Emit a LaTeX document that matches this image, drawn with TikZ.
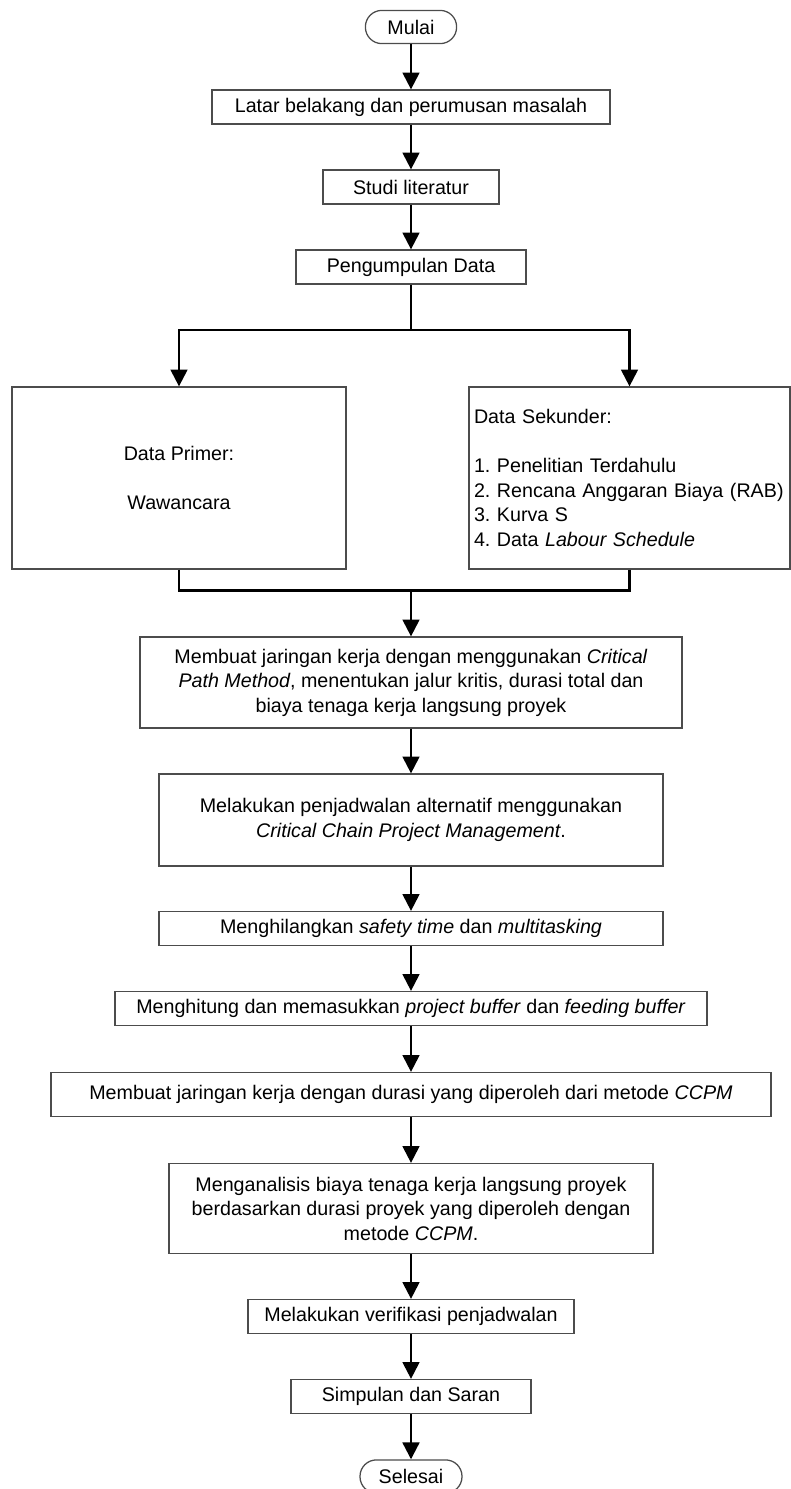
\documentclass[tikz,border=0pt]{standalone}
\usepackage{fontspec}
\setmainfont{Liberation Sans}
\frenchspacing
\usetikzlibrary{
    arrows.meta,
    positioning,
    calc
}

\begin{document}
\begin{tikzpicture}[
    node distance=2cm,
    every node/.style={font=\fontsize{14}{17.4}\selectfont},
    process/.style={rectangle, minimum height=0.85cm, align=center,
                    draw=black!70, line width=0.9pt, inner sep=2pt},
    terminal/.style={rectangle, rounded corners=0.41cm, minimum height=0.83cm,
                     align=center, draw=black!70, line width=0.9pt},
    line/.style={line width=1.6pt},
    arrow/.style={line width=1.6pt, -{Triangle[length=12pt, width=12pt]}}
]
    \useasboundingbox (0,0) rectangle (19.775,-37.225);

    % Start and preparation
    \node (mulai) [terminal, minimum width=2.28cm] at (10.275,-0.675) {Mulai};
    \node (background) [process, minimum width=9.95cm, below of=mulai] {Latar belakang dan perumusan masalah};
    \node (study) [process, minimum width=4.4cm, below of=background] {Studi literatur};
    \node (collect) [process, minimum width=5.75cm, below of=study] {Pengumpulan Data};

    % Data boxes
    \node (primary) [process, minimum width=8.35cm, minimum height=4.55cm,
                     below of=collect, xshift=-5.8cm, yshift=-3.275cm] {Data Primer:\\[17.4pt]Wawancara};
    \node (secondary) [process, text width=7.775cm, inner xsep=0.125cm, minimum height=4.55cm, align=left,
                       below of=collect, xshift=5.4625cm, yshift=-3.275cm]
        {Data Sekunder:\\[17.4pt]1. Penelitian Terdahulu\\2. Rencana Anggaran Biaya (RAB)\\3. Kurva S\\4. Data \textit{Labour Schedule}};

    % Scheduling steps
    \node (cpm) [process, minimum width=13.55cm, minimum height=2.275cm, below of=collect, yshift=-8.3875cm]
        {Membuat jaringan kerja dengan menggunakan \textit{Critical}\\\textit{Path Method}, menentukan jalur kritis, durasi total dan\\biaya tenaga kerja langsung proyek};
    \node (alternative) [process, minimum width=12.6cm, minimum height=2.3cm, below of=cpm, yshift=-1.4375cm]
        {Melakukan penjadwalan alternatif menggunakan\\\textit{Critical Chain Project Management}.};
    \node (removal) [process, minimum width=12.6cm, below of=alternative, yshift=-0.7125cm]
        {Menghilangkan \textit{safety time} dan \textit{multitasking}};
    \node (buffer) [process, minimum width=14.8cm, below of=removal]
        {Menghitung dan memasukkan \textit{project buffer} dan \textit{feeding buffer}};
    \node (network) [process, minimum width=18cm, minimum height=1.1cm, below of=buffer, yshift=-0.15cm]
        {Membuat jaringan kerja dengan durasi yang diperoleh dari metode \textit{CCPM}};
    \node (analysis) [process, minimum width=12.1cm, minimum height=2.25cm, below of=network, yshift=-0.85cm]
        {Menganalisis biaya tenaga kerja langsung proyek\\berdasarkan durasi proyek yang diperoleh dengan\\metode \textit{CCPM}.};
    \node (verify) [process, minimum width=8.15cm, below of=analysis, yshift=-0.7cm] {Melakukan verifikasi penjadwalan};
    \node (conclude) [process, minimum width=6cm, below of=verify] {Simpulan dan Saran};
    \node (selesai) [terminal, minimum width=2.55cm, below of=conclude] {Selesai};

    % Branch points
    \coordinate (split) at ($(collect.south)+(0,-1.125)$);
    \coordinate (merge) at ($(cpm.north)+(0,1.15)$);

    % Connections
    \draw [arrow] (mulai) -- (background);
    \draw [arrow] (background) -- (study);
    \draw [arrow] (study) -- (collect);
    \draw [arrow] (collect.south) -- (split) -| (primary.north);
    \draw [arrow] (split) -| (secondary.north);
    \draw [line] (primary.south) |- (merge);
    \draw [line] (secondary.south) |- (merge);
    \draw [arrow] (merge) -- (cpm.north);
    \draw [arrow] (cpm) -- (alternative);
    \draw [arrow] (alternative) -- (removal);
    \draw [arrow] (removal) -- (buffer);
    \draw [arrow] (buffer) -- (network);
    \draw [arrow] (network) -- (analysis);
    \draw [arrow] (analysis) -- (verify);
    \draw [arrow] (verify) -- (conclude);
    \draw [arrow] (conclude) -- (selesai);

\end{tikzpicture}
\end{document}
